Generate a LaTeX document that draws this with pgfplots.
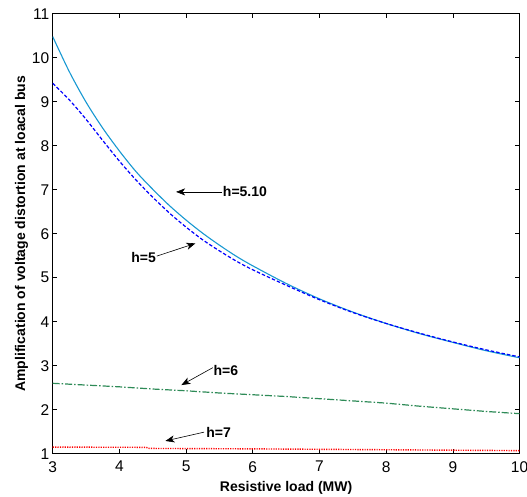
\documentclass[border=0pt]{standalone}
\usepackage{fontspec}
\setmainfont{Liberation Sans}
\usepackage{pgfplots}
\pgfplotsset{compat=1.18}
\usetikzlibrary{arrows.meta}
\definecolor{lightblue}{RGB}{23,152,210}
\definecolor{dkgreen}{RGB}{46,139,87}

\begin{document}
\begin{tikzpicture}
\begin{axis}[
  name=ax,
  scale only axis,
  width=466.8pt, height=440pt,
  xmin=3, xmax=10, ymin=1, ymax=11,
  xtick={3,...,10}, ytick={1,...,11},
  tick align=inside,
  major tick length=4.5pt,
  tick style={black, line width=0.6pt},
  axis line style={black, line width=0.8pt},
  /pgf/number format/assume math mode=true,
  ticklabel style={font=\fontsize{15.5}{18}\selectfont},
  xticklabel style={yshift=-4pt},
  label style={font=\fontsize{14}{16}\selectfont\bfseries},
  xlabel={Resistive load (MW)},
  ylabel={Amplification of voltage distortion at loacal bus},
  xlabel style={yshift=-2pt},
  ylabel style={yshift=-3pt},
  clip=true
]

% h = 5.10
\addplot[lightblue, line width=1.1pt, smooth] coordinates {
  (3,10.48) (3.25,9.68) (3.5,8.99) (3.75,8.40) (4,7.88) (4.25,7.41) (4.5,7.01)
  (4.75,6.64) (5,6.31) (5.25,6.01) (5.5,5.74) (5.75,5.49) (6,5.27) (6.5,4.87)
  (7,4.52) (7.5,4.22) (8,3.96) (8.5,3.73) (9,3.53) (9.5,3.34) (10,3.18)
};

% h = 5
\addplot[blue, line width=1.2pt, dash pattern=on 3.5pt off 2pt, smooth] coordinates {
  (3,9.42) (3.25,9.04) (3.5,8.6) (3.75,8.12) (4,7.65) (4.25,7.22) (4.5,6.83)
  (4.75,6.47) (5,6.15) (5.25,5.86) (5.5,5.61) (5.75,5.38) (6,5.18) (6.5,4.83)
  (7,4.5) (7.5,4.21) (8,3.96) (8.5,3.74) (9,3.54) (9.5,3.36) (10,3.2)
};

% h = 6
\addplot[dkgreen, line width=1.2pt, dash pattern=on 7pt off 2pt on 1.5pt off 2pt] coordinates {
  (3,2.60) (3.5,2.56) (4,2.52) (4.5,2.47) (5,2.43) (5.5,2.38) (6,2.34)
  (6.5,2.30) (7,2.25) (7.5,2.20) (8,2.15) (8.5,2.08) (9,2.02) (9.5,1.96) (10,1.91)
};

% h = 7
\addplot[red, line width=1.4pt, dash pattern=on 1.2pt off 1.2pt] coordinates {
  (3,1.15) (4.4,1.145) (4.45,1.12) (6,1.11) (7,1.10) (8,1.09) (9,1.08) (10,1.07)
};

\def\annfont{\fontsize{14}{16}\selectfont\bfseries}
\draw[-{Stealth[length=9pt,width=7pt,inset=2.5pt]}, line width=0.6pt] (axis cs:5.54,6.95) -- (axis cs:4.85,6.95);
\node[anchor=west, inner sep=0pt, font=\annfont] at (axis cs:5.55,6.95) {h=5.10};

\draw[-{Stealth[length=9pt,width=7pt,inset=2.5pt]}, line width=0.6pt] (axis cs:4.56,5.49) -- (axis cs:5.14,5.78);
\node[anchor=east, inner sep=0pt, font=\annfont] at (axis cs:4.55,5.45) {h=5};

\draw[-{Stealth[length=9pt,width=7pt,inset=2.5pt]}, line width=0.6pt] (axis cs:5.40,2.955) -- (axis cs:4.93,2.56);
\node[anchor=west, inner sep=0pt, font=\annfont] at (axis cs:5.41,2.90) {h=6};

\draw[-{Stealth[length=9pt,width=7pt,inset=2.5pt]}, line width=0.6pt] (axis cs:5.27,1.49) -- (axis cs:4.69,1.29);
\node[anchor=west, inner sep=0pt, font=\annfont] at (axis cs:5.30,1.48) {h=7};

\end{axis}
\pgfresetboundingbox
\path[use as bounding box] ([shift={(-52.7pt,-42.3pt)}]ax.south west) rectangle ([shift={(7.5pt,13.7pt)}]ax.north east);
\end{tikzpicture}
\end{document}
